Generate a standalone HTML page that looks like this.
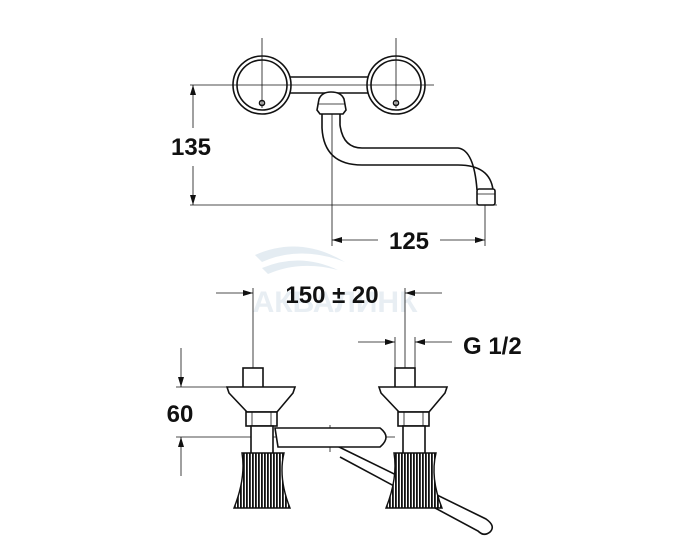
<!DOCTYPE html>
<html><head><meta charset="utf-8"><style>
html,body{margin:0;padding:0;background:#fff;}
svg{display:block;}
text{font-family:"Liberation Sans",Arial,sans-serif;font-weight:bold;fill:#111;}
</style></head><body>
<svg width="673" height="554" viewBox="0 0 673 554" xmlns="http://www.w3.org/2000/svg">
<defs>
<pattern id="st" width="3" height="10" patternUnits="userSpaceOnUse">
<rect width="3" height="10" fill="#fff"/><rect width="1.8" height="10" fill="#111"/>
</pattern>
<marker id="a" viewBox="0 0 10 6" refX="10" refY="3" markerWidth="12" markerHeight="6" orient="auto" markerUnits="userSpaceOnUse">
<path d="M0,0 L10,3 L0,6 z" fill="#111"/></marker>
</defs>
<!-- watermark -->
<path d="M255,255 Q300,235 345,262 Q300,245 262,262 Z" fill="#e4ecf2"/>
<path d="M262,268 Q300,252 338,270 Q300,260 268,274 Z" fill="#e4ecf2"/>
<text x="335" y="312" text-anchor="middle" font-size="30" style="fill:#e8eef3">АКВАЛИНК</text>

<g fill="none" stroke="#111" stroke-width="0.8">
<line x1="262" y1="38" x2="262" y2="108"/>
<line x1="396" y1="38" x2="396" y2="108"/>
<line x1="190" y1="85" x2="434" y2="85"/>
<line x1="190" y1="205" x2="497" y2="205"/>
<line x1="332" y1="96" x2="332" y2="246"/>
<line x1="485" y1="205" x2="485" y2="246"/>
<line x1="193" y1="128" x2="193" y2="85" marker-end="url(#a)"/>
<line x1="193" y1="166" x2="193" y2="205" marker-end="url(#a)"/>
<line x1="378" y1="240" x2="332" y2="240" marker-end="url(#a)"/>
<line x1="440" y1="240" x2="485" y2="240" marker-end="url(#a)"/>
</g>
<g fill="none" stroke="#111" stroke-width="1.6">
<circle cx="262" cy="85" r="29"/><circle cx="262" cy="85" r="25"/>
<circle cx="396" cy="85" r="29"/><circle cx="396" cy="85" r="25"/>
<circle cx="262" cy="103" r="2.5"/><circle cx="396" cy="103" r="2.5"/>
<line x1="290" y1="77" x2="368" y2="77"/>
<line x1="290" y1="93" x2="368" y2="93"/>
<path d="M319,99 Q322,92 331,92 Q341,92 344,99 L346,110 L343,114 L320,114 L317,110 Z" fill="#fff"/>
<line x1="318" y1="104" x2="345" y2="104" stroke-width="0.8"/>
<path d="M322,114 L322,128 Q324,165 362,165 L458,165 Q490,165 493,190"/>
<path d="M340,114 L340,125 Q343,148 362,148 L458,148 Q474,150 477,190"/>
<rect x="477" y="189" width="18" height="16" rx="2" fill="#fff"/>
<line x1="477" y1="194" x2="495" y2="194" stroke-width="0.8"/>
</g>
<text x="191" y="155" text-anchor="middle" font-size="24">135</text>
<text x="409" y="249" text-anchor="middle" font-size="24">125</text>

<g fill="none" stroke="#111" stroke-width="0.8">
<line x1="216" y1="293" x2="253" y2="293" marker-end="url(#a)"/>
<line x1="442" y1="293" x2="405" y2="293" marker-end="url(#a)"/>
<line x1="253" y1="288" x2="253" y2="390"/>
<line x1="405" y1="288" x2="405" y2="390"/>
<line x1="358" y1="342" x2="395" y2="342" marker-end="url(#a)"/>
<line x1="452" y1="342" x2="415" y2="342" marker-end="url(#a)"/>
<line x1="395" y1="337" x2="395" y2="372"/>
<line x1="415" y1="337" x2="415" y2="372"/>
<line x1="176" y1="387" x2="250" y2="387"/>
<line x1="176" y1="437" x2="395" y2="437"/>
<line x1="181" y1="348" x2="181" y2="387" marker-end="url(#a)"/>
<line x1="181" y1="476" x2="181" y2="437" marker-end="url(#a)"/>
<line x1="330" y1="425" x2="330" y2="452"/>
</g>
<text x="332" y="303" text-anchor="middle" font-size="24">150 ± 20</text>
<text x="463" y="354" font-size="24">G 1/2</text>
<text x="180" y="422" text-anchor="middle" font-size="24">60</text>

<g fill="none" stroke="#111" stroke-width="1.6">
<path d="M335,445 L486,519 Q496,526 490,532 Q484,537 478,531 L340,457" fill="#fff"/>
<path d="M275,428 L380,428 Q392,437 380,447 L278,447 Z" fill="#fff"/>
</g>
<g id="v" fill="none" stroke="#111" stroke-width="1.6">
<rect x="243" y="368" width="20" height="20" fill="#fff"/>
<path d="M227,387 L295,387 L293,393 L277,412 L247,412 L229,393 Z" fill="#fff"/>
<rect x="246" y="412" width="31" height="14" fill="#fff"/>
<line x1="252" y1="412" x2="252" y2="426" stroke-width="0.8"/>
<line x1="271" y1="412" x2="271" y2="426" stroke-width="0.8"/>
<rect x="251" y="426" width="22" height="28" fill="#fff"/>
<path d="M242,453 L284,453 Q278,478 290,508 L234,508 Q246,478 242,453 Z" fill="url(#st)" stroke-width="1.4"/>
</g>
<use href="#v" x="152"/>
</svg>
</body></html>
